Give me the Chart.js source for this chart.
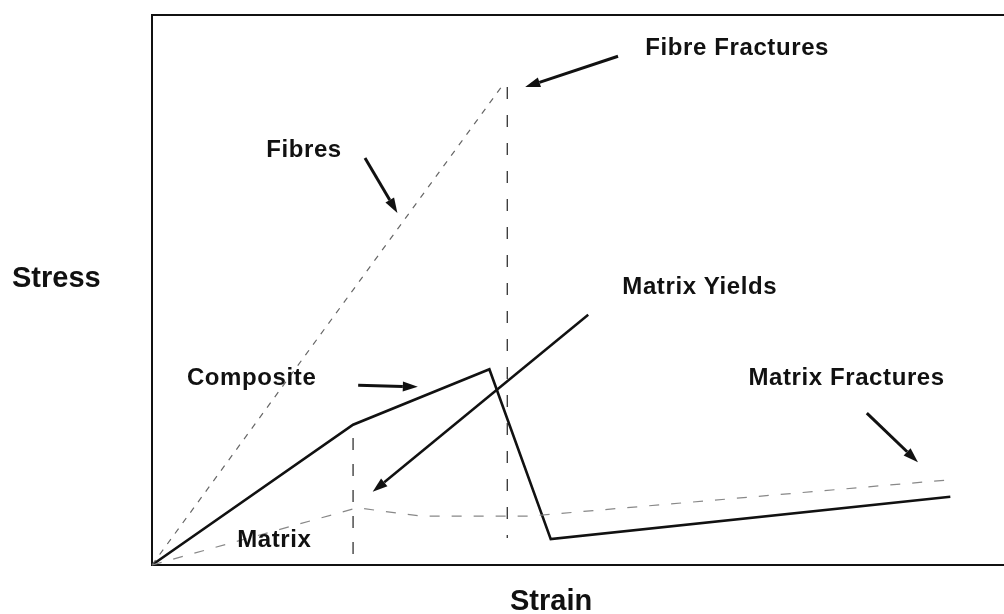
<!DOCTYPE html>
<html>
<head>
<meta charset="utf-8">
<script src="https://cdn.jsdelivr.net/npm/chart.js@4/dist/chart.umd.min.js"></script>
<style>
    html, body { margin: 0; padding: 0; background: #ffffff; }
    #wrap { width: 1004px; height: 614px; position: relative; }
</style>
</head>
<body>
<div id="wrap"><canvas id="chartStress"></canvas></div>
<script>
'use strict';

/* Courbes (unités arbitraires : déformation 0-100, contrainte 0-100) */
var fibreStrain      = [0, 41.0];
var fibreStress      = [0, 86.9];
var compositeStrain  = [0, 23.6, 39.6, 46.8, 93.7];
var compositeStress  = [0, 25.5, 35.6, 4.7, 12.4];
var matrixStrain     = [0, 24.1, 31.5, 44.4, 93.7];
var matrixStress     = [0, 10.4, 8.9, 8.9, 15.5];
var yieldMarkStrain  = [23.6, 23.6];
var yieldMarkStress  = [23.1, 1.3];
var breakMarkStrain  = [41.7, 41.7];
var breakMarkStress  = [86.9, 4.9];

/* Flèches d'annotation : départ -> pointe */
var arrows = [
    { from: [54.7, 92.5], to: [43.8, 86.9], width: 3 },
    { from: [25.0, 74.0], to: [28.8, 64.0], width: 3 },
    { from: [24.2, 32.7], to: [31.2, 32.4], width: 3 },
    { from: [51.2, 45.5], to: [25.9, 13.3], width: 2.5 },
    { from: [83.9, 27.6], to: [89.9, 18.7], width: 3 }
];

var labels = [
    { text: 'Fibre Fractures',  x: 57.9, y: 94.0 },
    { text: 'Fibres',           x: 13.4, y: 75.3 },
    { text: 'Matrix Yields',    x: 55.2, y: 50.4 },
    { text: 'Composite',        x: 4.1,  y: 34.0 },
    { text: 'Matrix Fractures', x: 70.0, y: 34.0 },
    { text: 'Matrix',           x: 10.0, y: 4.5 }
];

function pts(xs, ys) {
    return xs.map(function (x, i) { return { x: x, y: ys[i] }; });
}

/* Cadre, flèches et textes */
var annotPlugin = {
    id: 'annot',
    beforeDatasetsDraw: function (chart) {
        var ctx = chart.ctx, a = chart.chartArea;
        ctx.save();
        ctx.strokeStyle = '#111';
        ctx.lineWidth = 2;
        ctx.beginPath();
        ctx.moveTo(a.right, a.top);
        ctx.lineTo(a.left, a.top);
        ctx.lineTo(a.left, a.bottom);
        ctx.lineTo(a.right, a.bottom);
        ctx.stroke();
        ctx.restore();
    },
    afterDatasetsDraw: function (chart) {
        var ctx = chart.ctx;
        var sx = chart.scales.x, sy = chart.scales.y;
        ctx.save();
        ctx.strokeStyle = '#111';
        ctx.fillStyle = '#111';
        arrows.forEach(function (ar) {
            var x0 = sx.getPixelForValue(ar.from[0]), y0 = sy.getPixelForValue(ar.from[1]);
            var x1 = sx.getPixelForValue(ar.to[0]),   y1 = sy.getPixelForValue(ar.to[1]);
            var ang = Math.atan2(y1 - y0, x1 - x0);
            var len = 15, half = 5;
            var bx = x1 - len * Math.cos(ang), by = y1 - len * Math.sin(ang);
            ctx.lineWidth = ar.width;
            ctx.beginPath();
            ctx.moveTo(x0, y0);
            ctx.lineTo(bx, by);
            ctx.stroke();
            ctx.beginPath();
            ctx.moveTo(x1, y1);
            ctx.lineTo(bx + half * Math.sin(ang), by - half * Math.cos(ang));
            ctx.lineTo(bx - half * Math.sin(ang), by + half * Math.cos(ang));
            ctx.closePath();
            ctx.fill();
        });

        ctx.textBaseline = 'middle';
        ctx.textAlign = 'left';
        ctx.letterSpacing = '0.6px';
        ctx.font = 'bold 24px "Liberation Sans", Arial, sans-serif';
        labels.forEach(function (l) {
            ctx.fillText(l.text, sx.getPixelForValue(l.x), sy.getPixelForValue(l.y));
        });

        /* Titres des axes */
        ctx.letterSpacing = '0px';
        ctx.font = 'bold 29px "Liberation Sans", Arial, sans-serif';
        ctx.fillText('Stress', 12, 279);
        ctx.fillText('Strain', 510, 602);
        ctx.restore();
    }
};

new Chart(document.getElementById('chartStress'), {
    type: 'scatter',
    data: {
        datasets: [
            {
                label: 'Fibres',
                data: pts(fibreStrain, fibreStress),
                showLine: true,
                borderColor: '#666',
                borderWidth: 1.2,
                borderDash: [6, 7]
            },
            {
                label: 'Matrix',
                data: pts(matrixStrain, matrixStress),
                showLine: true,
                borderColor: '#888',
                borderWidth: 1.2,
                borderDash: [10, 12]
            },
            {
                label: 'Yield',
                data: pts(yieldMarkStrain, yieldMarkStress),
                showLine: true,
                borderColor: '#333',
                borderWidth: 1.3,
                borderDash: [12, 14]
            },
            {
                label: 'Break',
                data: pts(breakMarkStrain, breakMarkStress),
                showLine: true,
                borderColor: '#333',
                borderWidth: 1.3,
                borderDash: [12, 16]
            },
            {
                label: 'Composite',
                data: pts(compositeStrain, compositeStress),
                showLine: true,
                borderColor: '#111',
                borderWidth: 2.6
            }
        ]
    },
    options: {
        responsive:          true,
        maintainAspectRatio: false,
        animation:           false,
        layout: { padding: { left: 152, top: 15, right: 0, bottom: 49 } },
        elements: {
            point: { radius: 0, hoverRadius: 0 },
            line:  { tension: 0, fill: false }
        },
        datasets: { scatter: { clip: false } },
        scales: {
            x: { type: 'linear', min: 0, max: 100, display: false },
            y: { type: 'linear', min: 0, max: 100, display: false }
        },
        plugins: {
            legend:  { display: false },
            tooltip: { enabled: false }
        }
    },
    plugins: [annotPlugin]
});
</script>
</body>
</html>
